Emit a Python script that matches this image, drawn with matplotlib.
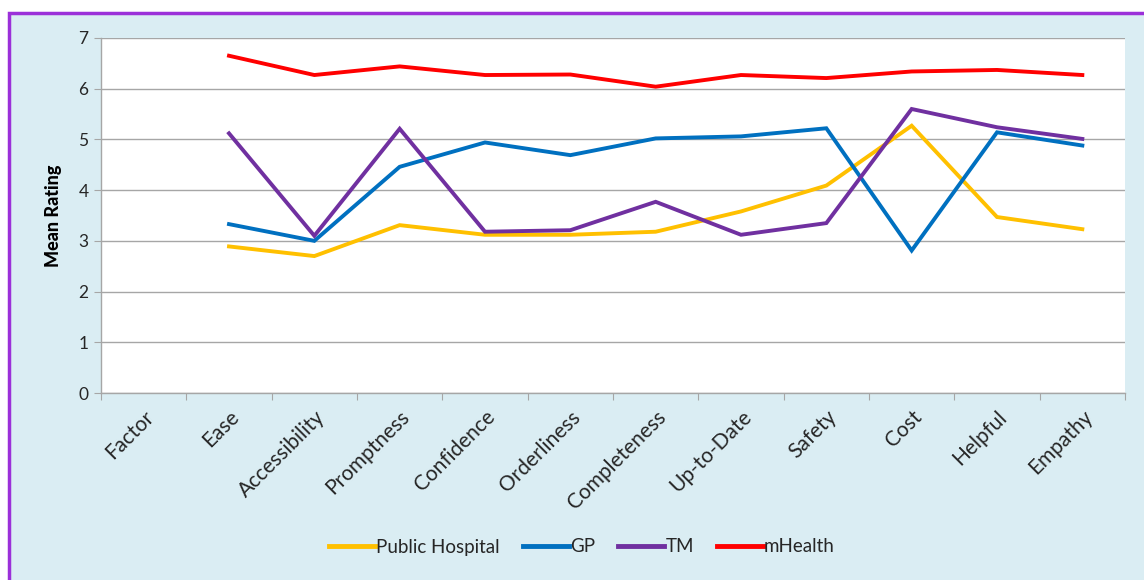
import matplotlib.pyplot as plt
from matplotlib.patches import Rectangle
import numpy as np

plt.rcParams['font.family'] = ['Lato', 'DejaVu Sans']

categories = ['Factor', 'Ease', 'Accessibility', 'Promptness', 'Confidence', 'Orderliness',
              'Completeness', 'Up-to-Date', 'Safety', 'Cost', 'Helpful', 'Empathy']

# values start at "Ease" (no data for "Factor")
public_hospital = [2.89, 2.70, 3.31, 3.12, 3.12, 3.18, 3.58, 4.09, 5.27, 3.47, 3.23]
gp = [3.33, 3.00, 4.46, 4.94, 4.69, 5.02, 5.06, 5.22, 2.81, 5.14, 4.88]
tm = [5.12, 3.10, 5.21, 3.18, 3.21, 3.77, 3.12, 3.35, 5.60, 5.24, 5.01]
mhealth = [6.65, 6.27, 6.44, 6.27, 6.28, 6.04, 6.27, 6.21, 6.34, 6.37, 6.27]

series = [('Public Hospital', public_hospital, '#FFC000'),
          ('GP', gp, '#0070C0'),
          ('TM', tm, '#7030A0'),
          ('mHealth', mhealth, '#FF0000')]

fig = plt.figure(figsize=(11.44, 5.80), dpi=100)
fig.patch.set_facecolor('white')

# chart area background with purple border
bg = Rectangle((8.5 / 1144, -0.01), 1.02, (580 - 13.5) / 580 + 0.01,
               transform=fig.transFigure, facecolor='#DAEDF3',
               edgecolor='#9B30D9', linewidth=2.5, zorder=-5)
fig.add_artist(bg)

ax = fig.add_axes([101 / 1144, (580 - 393) / 580, 1024 / 1144, 355 / 580])
ax.set_facecolor('white')

x = np.arange(1, len(categories)) + 0.5
for name, vals, color in series:
    ax.plot(x, vals, color=color, linewidth=2.8, label=name, solid_joinstyle='miter')

ax.set_xlim(0, len(categories))
ax.set_ylim(0, 7)
ax.set_yticks(range(0, 8))
ax.yaxis.grid(True, color='#A6A6A6', linewidth=1.0)
ax.set_axisbelow(True)

ax.set_xticks(range(0, len(categories) + 1))
ax.set_xticklabels([])
ax.set_xticks(np.arange(len(categories)) + 0.5, minor=True)
ax.set_xticklabels(categories, minor=True, rotation=45, ha='right', va='top',
                   rotation_mode='anchor', fontsize=15, color='#262626')
ax.tick_params(axis='x', which='major', length=5, color='#A6A6A6', direction='out')
ax.tick_params(axis='x', which='minor', length=0, pad=10)
ax.tick_params(axis='y', length=5, color='#A6A6A6', labelsize=12.5, labelcolor='#262626', pad=4)

for side in ['top', 'right']:
    ax.spines[side].set_visible(False)
for side in ['left', 'bottom']:
    ax.spines[side].set_color('#A6A6A6')
    ax.spines[side].set_linewidth(1.0)

ax.set_ylabel('Mean Rating', fontsize=13, fontweight='black', labelpad=12)

leg = fig.legend(loc='center', bbox_to_anchor=(582 / 1144, (580 - 547) / 580), ncol=4,
                 frameon=False, fontsize=13.5, handlelength=2.45, handletextpad=0.05,
                 columnspacing=1.25)
for line in leg.get_lines():
    line.set_linewidth(3.5)
for t in leg.get_texts():
    t.set_color('#262626')

fig.savefig('out.png', dpi=100)
